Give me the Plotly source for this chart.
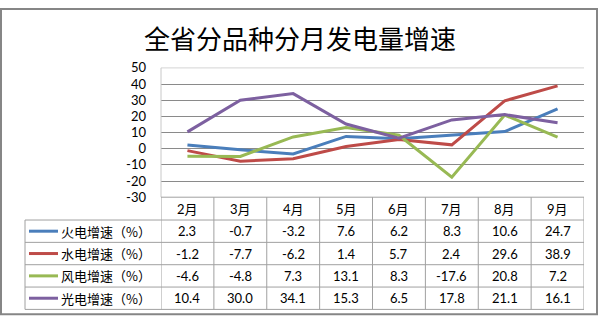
import plotly.graph_objects as go

W, H = 600, 325

months = ["2月", "3月", "4月", "5月", "6月", "7月", "8月", "9月"]
series_names = ["火电增速（%）", "水电增速（%）", "风电增速（%）", "光电增速（%）"]
thermal = [2.3, -0.7, -3.2, 7.6, 6.2, 8.3, 10.6, 24.7]
hydro = [-1.2, -7.7, -6.2, 1.4, 5.7, 2.4, 29.6, 38.9]
wind = [-4.6, -4.8, 7.3, 13.1, 8.3, -17.6, 20.8, 7.2]
solar = [10.4, 30.0, 34.1, 15.3, 6.5, 17.8, 21.1, 16.1]
series_values = [thermal, hydro, wind, solar]
colors = ["#4A7EBB", "#BE4B48", "#98B954", "#7D60A0"]
y_ticks = [50, 40, 30, 20, 10, 0, -10, -20, -30]

# pixel layout helpers
def px_x(p):
    return p / W

def px_y(p):
    return 1 - p / H

plot_left, plot_right = 161, 584
plot_top, plot_bottom = 63, 199
table_left = 25
row_edges = [199, 223, 246.5, 270, 293.5, 317]

fig = go.Figure()
xidx = list(range(len(months)))
for name, vals, c in zip(series_names, series_values, colors):
    fig.add_trace(go.Scatter(x=xidx, y=vals, mode="lines", name=name,
                             line=dict(color=c, width=3), showlegend=False,
                             hoverinfo="skip"))

font_num = "Lato, 'Noto Sans CJK SC', sans-serif"
font_cjk = "'Noto Sans CJK SC', sans-serif"

fig.update_layout(
    width=W, height=H, autosize=False,
    margin=dict(l=0, r=0, t=0, b=0),
    paper_bgcolor="white", plot_bgcolor="white",
    xaxis=dict(domain=[px_x(plot_left), px_x(plot_right)], range=[-0.5, 7.5],
               showgrid=False, zeroline=False, showticklabels=False,
               showline=False, fixedrange=True),
    yaxis=dict(domain=[px_y(plot_bottom), px_y(plot_top)], range=[-30, 50],
               tickvals=y_ticks, ticktext=[str(v) for v in y_ticks],
               showgrid=True, gridcolor="#8A8A8A", gridwidth=1,
               zeroline=False, showline=False, ticks="",
               ticklabelstandoff=14,
               tickfont=dict(family=font_num, size=13, color="#000000"),
               fixedrange=True),
)

shapes = []
grid_light = "#C8C8C8"
tbl = "#A0A0A0"
# top border of plot area (lighter)
shapes.append(dict(type="line", xref="paper", yref="paper",
                   x0=px_x(plot_left), x1=px_x(plot_right),
                   y0=px_y(plot_top), y1=px_y(plot_top),
                   line=dict(color="#D4D4D4", width=1), layer="above"))
# left axis line
shapes.append(dict(type="line", xref="paper", yref="paper",
                   x0=px_x(plot_left), x1=px_x(plot_left),
                   y0=px_y(plot_top), y1=px_y(plot_bottom),
                   line=dict(color=grid_light, width=1), layer="above"))
# table vertical lines at category boundaries
for i in range(len(months) + 1):
    shapes.append(dict(type="line", xref="x", yref="paper",
                       x0=i - 0.5, x1=i - 0.5,
                       y0=px_y(row_edges[0]), y1=px_y(row_edges[-1]),
                       line=dict(color=tbl, width=1)))
# label column left line
shapes.append(dict(type="line", xref="paper", yref="paper",
                   x0=px_x(table_left), x1=px_x(table_left),
                   y0=px_y(row_edges[1]), y1=px_y(row_edges[-1]),
                   line=dict(color=tbl, width=1)))
# horizontal table lines
for k, ry in enumerate(row_edges):
    x0 = plot_left if k == 0 else table_left
    shapes.append(dict(type="line", xref="paper", yref="paper",
                       x0=px_x(x0), x1=px_x(plot_right),
                       y0=px_y(ry), y1=px_y(ry),
                       line=dict(color=tbl, width=1)))
# legend keys
for k, c in enumerate(colors):
    cy = (row_edges[k + 1] + row_edges[k + 2]) / 2
    shapes.append(dict(type="line", xref="paper", yref="paper",
                       x0=px_x(29), x1=px_x(58), y0=px_y(cy), y1=px_y(cy),
                       line=dict(color=c, width=3)))
# outer border
shapes.append(dict(type="rect", xref="paper", yref="paper",
                   x0=px_x(1), x1=px_x(597), y0=px_y(322), y1=px_y(1),
                   line=dict(color="#868686", width=2)))

annotations = []
annotations.append(dict(text="全省分品种分月发电量增速", xref="paper", yref="paper",
                        x=0.5, y=px_y(31), xanchor="center", yanchor="middle",
                        showarrow=False,
                        font=dict(family=font_cjk, size=26, color="#000000")))
hy = (row_edges[0] + row_edges[1]) / 2
for i, m in enumerate(months):
    annotations.append(dict(text=m, xref="x", yref="paper", x=i, y=px_y(hy),
                            xanchor="center", yanchor="middle", showarrow=False,
                            font=dict(family=font_num, size=13, color="#000000")))
for k, (name, vals) in enumerate(zip(series_names, series_values)):
    cy = (row_edges[k + 1] + row_edges[k + 2]) / 2
    annotations.append(dict(text=name, xref="paper", yref="paper",
                            x=px_x(59), y=px_y(cy), xanchor="left",
                            yanchor="middle", showarrow=False,
                            font=dict(family=font_cjk, size=13, color="#000000")))
    for i, v in enumerate(vals):
        annotations.append(dict(text=f"{v:.1f}", xref="x", yref="paper",
                                x=i, y=px_y(cy), xanchor="center",
                                yanchor="middle", showarrow=False,
                                font=dict(family=font_num, size=13, color="#000000")))

fig.update_layout(shapes=shapes, annotations=annotations)
fig.write_html("out.html")
